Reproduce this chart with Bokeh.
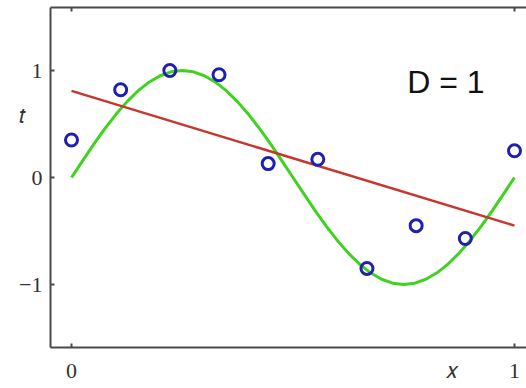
from bokeh.plotting import figure
from bokeh.models import LinearAxis, FixedTicker, Label, Range1d
from bokeh.embed import file_html
from bokeh.resources import INLINE

# observed data points
x_pts = [0.0, 0.111, 0.222, 0.333, 0.444, 0.556, 0.667, 0.778, 0.889, 1.0]
t_pts = [0.35, 0.82, 1.00, 0.96, 0.13, 0.17, -0.85, -0.45, -0.57, 0.25]

# true curve (green)
green_x = [i / 40 for i in range(41)]
green_t = [0.0, 0.156, 0.309, 0.454, 0.588, 0.707, 0.809, 0.891, 0.951, 0.988, 1.0,
           0.988, 0.951, 0.891, 0.809, 0.707, 0.588, 0.454, 0.309, 0.156, 0.0,
           -0.156, -0.309, -0.454, -0.588, -0.707, -0.809, -0.891, -0.951, -0.988, -1.0,
           -0.988, -0.951, -0.891, -0.809, -0.707, -0.588, -0.454, -0.309, -0.156, 0.0]

# fitted line (red), D = 1
red_x = [0.0, 1.0]
red_t = [0.81, -0.45]

x_ticks = [0, 1]
y_ticks = [-1, 0, 1]
x_tick_labels = ["0", "1"]
y_tick_labels = ["\u22121", "0", "1"]

# axis-name positions (in data units)
x_name, x_name_at = "\U0001D465", 0.86
t_name, t_name_at = "\U0001D461", 0.58

W, H = 526, 388
p = figure(width=W, height=H, output_backend="svg", toolbar_location=None,
           x_range=Range1d(-0.0474, 1.0271), y_range=Range1d(-1.589, 1.589),
           x_axis_location=None, y_axis_location=None,
           min_border_left=50, min_border_right=0, min_border_top=7, min_border_bottom=41)
p.outline_line_color = None
p.xgrid.visible = False
p.ygrid.visible = False
p.background_fill_color = "white"
p.border_fill_color = "white"

AX = "#4a4a4a"

def frame_axis(ticks):
    ax = LinearAxis(ticker=FixedTicker(ticks=ticks),
                    major_label_overrides={t: "" for t in ticks})
    ax.axis_line_color = AX
    ax.axis_line_width = 2
    ax.major_tick_in = 4
    ax.major_tick_out = 0
    ax.major_tick_line_color = AX
    ax.major_tick_line_width = 2
    ax.minor_tick_line_color = None
    ax.major_label_standoff = 0
    ax.major_label_text_font_size = "22px"
    return ax

def label_axis(ticks, labels, standoff):
    ax = LinearAxis(ticker=FixedTicker(ticks=ticks),
                    major_label_overrides=dict(zip(ticks, labels)))
    ax.axis_line_color = None
    ax.major_tick_line_color = None
    ax.minor_tick_line_color = None
    ax.major_tick_in = 0
    ax.major_tick_out = 0
    ax.major_label_standoff = standoff
    ax.major_label_text_font = "Liberation Serif"
    ax.major_label_text_font_size = "22px"
    ax.major_label_text_color = "#333333"
    return ax

p.add_layout(frame_axis(y_ticks), "left")
p.add_layout(label_axis(y_ticks + [t_name_at],
                        y_tick_labels + [t_name + "\u00a0\u00a0\u00a0"], 8), "left")
p.add_layout(frame_axis(x_ticks), "below")
p.add_layout(label_axis(x_ticks + [x_name_at], x_tick_labels + [x_name], 10), "below")
p.add_layout(frame_axis(x_ticks), "above")

p.line(green_x, green_t, line_color="#3fd21e", line_width=3)
p.line(red_x, red_t, line_color="#c8372d", line_width=2.5)
p.scatter(x_pts, t_pts, marker="circle", size=12, fill_color=None,
          line_color="#2020b0", line_width=3)

p.add_layout(Label(x=0.758, y=0.888, text="D = 1",
                   text_font="Liberation Sans", text_font_size="32px",
                   text_color="#111111", text_align="left", text_baseline="alphabetic"))

open("out.html", "w").write(file_html(p, INLINE))
